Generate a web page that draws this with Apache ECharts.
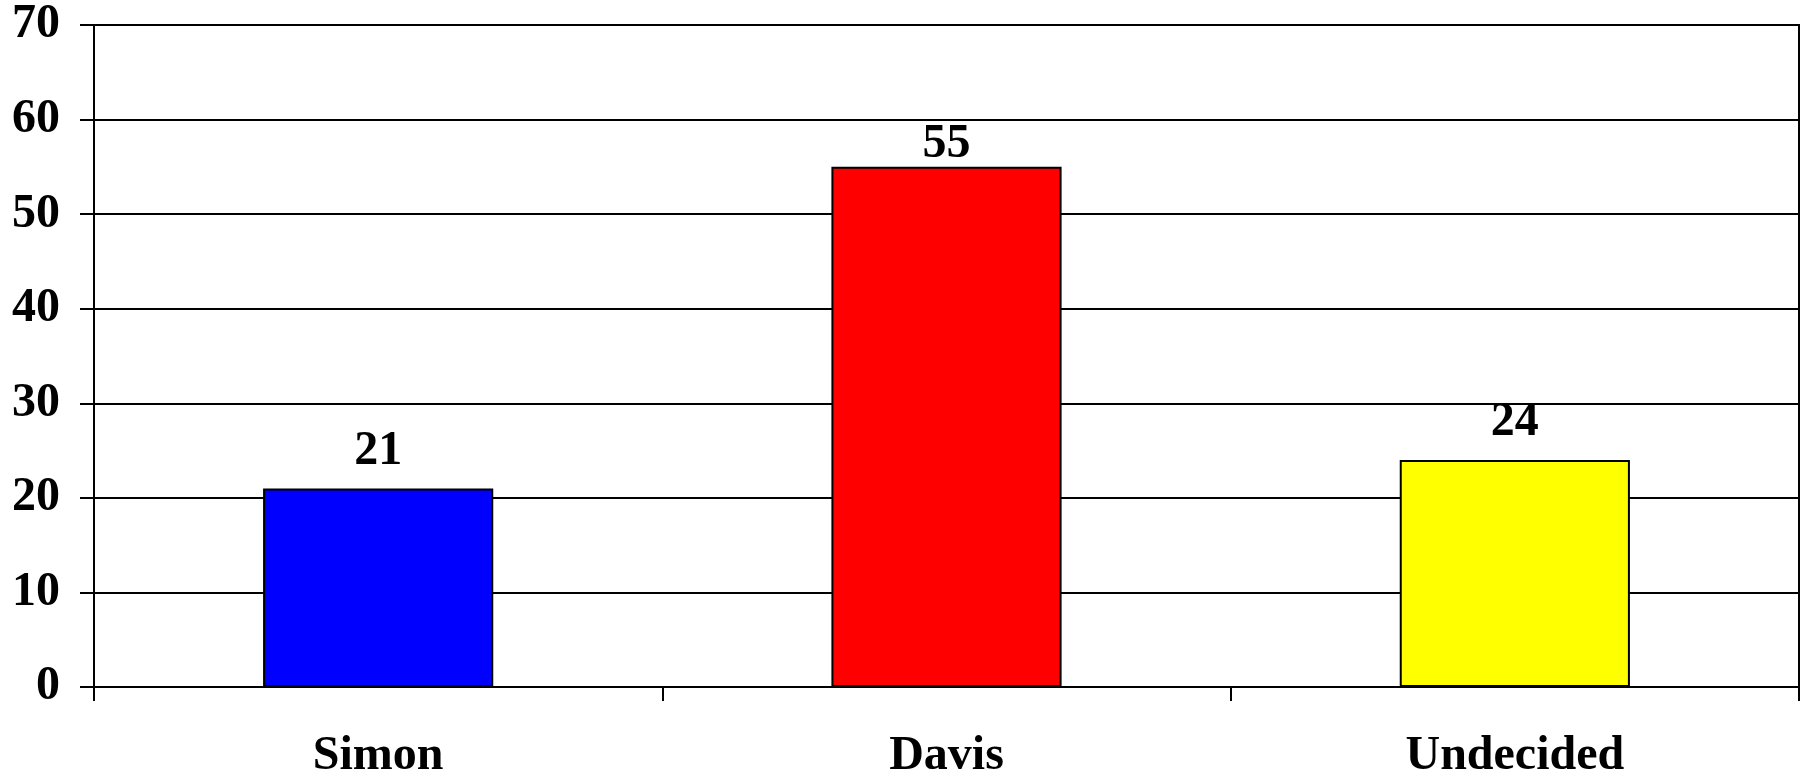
<!DOCTYPE html>
<html>
<head>
<meta charset="utf-8">
<script src="https://cdn.jsdelivr.net/npm/echarts@6/dist/echarts.min.js"></script>
<style>
html,body{margin:0;padding:0;background:#fff;}
#chart{width:1807px;height:774px;}
</style>
</head>
<body>
<div id="chart"></div>
<script>
const categories = ["Simon", "Davis", "Undecided"];
const values = [21, 55, 24];
const barColors = ["#0000FF", "#FF0000", "#FFFF00"];
const yTicks = [0, 10, 20, 30, 40, 50, 60, 70];

const font = "Liberation Serif, Times New Roman, serif";
const labelDistances = [13, -2, 13];
const chart = echarts.init(document.getElementById('chart'), null, {renderer: 'canvas'});
chart.setOption({
  animation: false,
  backgroundColor: '#fff',
  grid: {left: 94, right: 8, top: 25, bottom: 87, containLabel: false, outerBoundsMode: 'none', show: true, borderColor: '#000', borderWidth: 2, backgroundColor: 'transparent'},
  xAxis: {
    type: 'category',
    data: categories,
    axisLine: {lineStyle: {color: '#000', width: 2}},
    axisTick: {show: true, length: 14, lineStyle: {color: '#000', width: 2}, alignWithLabel: false},
    axisLabel: {color: '#000', fontFamily: font, fontWeight: 'bold', fontSize: 48, margin: 46}
  },
  yAxis: {
    type: 'value',
    min: yTicks[0],
    max: yTicks[yTicks.length - 1],
    interval: 10,
    axisLine: {show: true, lineStyle: {color: '#000', width: 2}},
    axisTick: {show: true, length: 14, lineStyle: {color: '#000', width: 2}},
    splitLine: {show: true, lineStyle: {color: '#000', width: 2}},
    axisLabel: {color: '#000', fontFamily: font, fontWeight: 'bold', fontSize: 48, margin: 34, padding: [8, 0, 0, 0]}
  },
  series: [{
    type: 'bar',
    barWidth: '40.5%',
    data: values.map((v, i) => ({value: v, itemStyle: {color: barColors[i]}, label: {distance: labelDistances[i]}})),
    itemStyle: {borderColor: '#000', borderWidth: 2},
    label: {show: true, position: 'top', color: '#000', fontFamily: font, fontWeight: 'bold', fontSize: 48}
  }]
});
</script>
</body>
</html>
